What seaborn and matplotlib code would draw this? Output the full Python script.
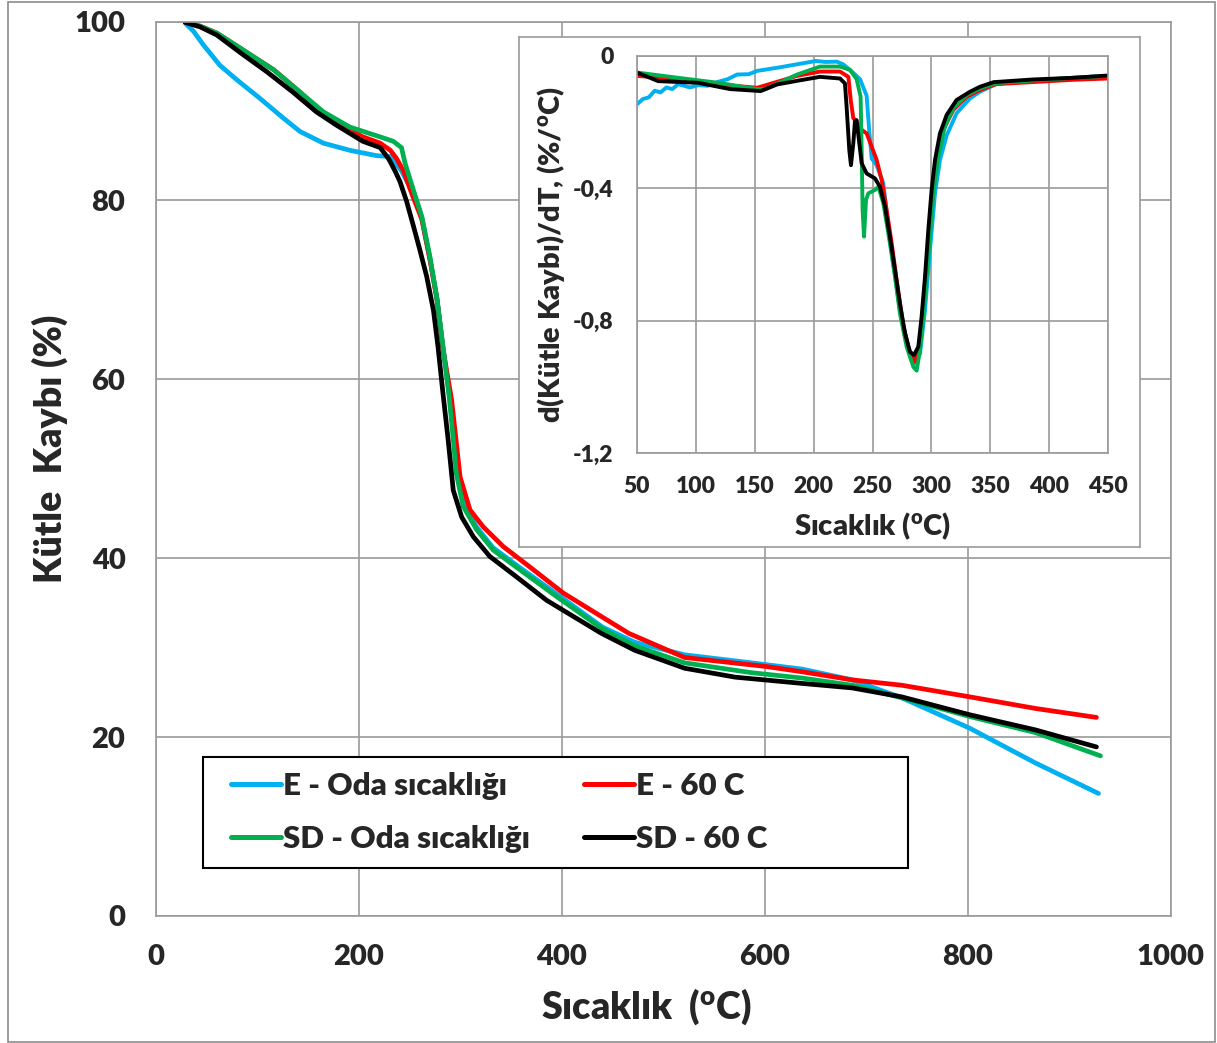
import numpy as np
import pandas as pd
import seaborn as sns
import matplotlib
matplotlib.use("Agg")
import matplotlib.pyplot as plt
from matplotlib.patches import Rectangle
from matplotlib.lines import Line2D

sns.set_theme(style="white")
plt.rcParams['font.family'] = ['Lato', 'DejaVu Sans']
plt.rcParams['font.weight'] = 'heavy'
plt.rcParams['mathtext.fontset'] = 'custom'
plt.rcParams['mathtext.rm'] = 'Lato:heavy'
plt.rcParams['mathtext.bf'] = 'Lato:heavy'
plt.rcParams['mathtext.it'] = 'Lato:heavy'
plt.rcParams['lines.solid_joinstyle'] = 'round'
plt.rcParams['lines.solid_capstyle'] = 'round'
FW = 'heavy'

# ---------------- data: TGA (main) ----------------
series_names = ["E - Oda sıcaklığı", "E - 60 C", "SD - Oda sıcaklığı", "SD - 60 C"]
series_colors = ["#00B0F0", "#FF0000", "#00B050", "#000000"]

e_oda_T = [29, 37, 46.6, 63, 79.5, 102.5, 125.5, 142, 165, 191, 217.5, 231, 236, 242, 248, 254, 262, 270, 277, 283, 290, 295, 303, 316, 332, 358, 395, 440, 472, 521, 587, 637, 686, 735, 802, 867, 929]
e_oda_m = [99.8, 98.9, 97.4, 95.1, 93.5, 91.4, 89.2, 87.7, 86.4, 85.6, 85.0, 84.9, 84.2, 83.3, 82.0, 80.9, 78.0, 73.5, 69.0, 63.4, 57.6, 51.8, 46.1, 43.5, 41.2, 39.0, 36.0, 32.3, 30.6, 29.2, 28.3, 27.6, 26.4, 24.4, 21.0, 17.1, 13.7]

e_60_T = [29, 43, 60, 86, 116, 142, 165, 178, 204, 221, 231, 237, 244, 252, 262, 270, 277, 283, 291.4, 299.7, 309.5, 322.6, 342.3, 368.7, 401.5, 466, 521, 601, 637, 686, 735, 802, 867, 927]
e_60_m = [100, 99.5, 98.7, 96.8, 94.6, 92.1, 89.6, 88.6, 87.1, 86.4, 85.6, 84.7, 83.3, 80.8, 77.9, 73.4, 68.9, 63.3, 57.7, 49.1, 45.4, 43.5, 41.3, 39.0, 36.1, 31.6, 28.9, 27.9, 27.3, 26.4, 25.8, 24.5, 23.2, 22.2]

sd_oda_T = [29, 43, 60, 86, 116, 142, 165, 191, 221, 234, 242, 245.4, 253.6, 262, 270, 276.7, 283, 289, 293, 296, 302.8, 316, 332.5, 358.8, 395, 440, 472, 521, 587, 637, 686, 735, 802, 867, 931]
sd_oda_m = [100, 99.5, 98.7, 96.8, 94.6, 92.1, 89.9, 88.2, 87.1, 86.6, 85.9, 84.2, 81.2, 78.2, 73.7, 69.2, 63.6, 58.0, 53.3, 49.5, 45.8, 43.2, 40.9, 38.7, 35.7, 32.1, 30.2, 28.3, 27.2, 26.6, 25.8, 24.4, 22.3, 20.5, 17.9]

sd_60_T = [28.6, 43.4, 59.8, 84.5, 109, 135, 158, 178, 204, 221, 229, 231, 236, 240.5, 247, 253.6, 260, 266.8, 273.5, 278, 283, 288, 293, 301.3, 312.8, 329, 355.5, 385, 401, 439, 472, 521, 571, 637, 686, 735, 802, 867, 927]
sd_60_m = [99.9, 99.4, 98.5, 96.4, 94.4, 92.1, 89.9, 88.4, 86.6, 85.9, 84.7, 84.3, 83.2, 82.1, 79.9, 77.2, 74.5, 71.5, 67.7, 63.6, 58.3, 53.2, 47.6, 44.6, 42.4, 40.2, 37.9, 35.3, 34.2, 31.6, 29.7, 27.7, 26.7, 26.0, 25.5, 24.5, 22.5, 20.8, 18.9]

# ---------------- data: DTG (inset) ----------------
d_e_oda_T = [50, 55, 60, 65, 70, 75, 80, 85, 95, 102, 110, 119, 127, 135, 145, 152, 170, 186, 202, 210, 219.6, 225, 230.9, 239.4, 245, 247.3, 249.3, 253.5, 259.2, 264.8, 273.3, 280.4, 286, 290.3, 294.6, 298.8, 303.1, 307.3, 313, 321.4, 332.8, 341.2, 355, 380, 420, 450]
d_e_oda_d = [-0.146, -0.13, -0.125, -0.105, -0.11, -0.095, -0.10, -0.085, -0.095, -0.088, -0.09, -0.078, -0.07, -0.056, -0.055, -0.045, -0.035, -0.025, -0.015, -0.018, -0.017, -0.025, -0.042, -0.07, -0.12, -0.23, -0.31, -0.33, -0.385, -0.556, -0.768, -0.879, -0.93, -0.90, -0.768, -0.586, -0.415, -0.314, -0.24, -0.173, -0.128, -0.108, -0.085, -0.075, -0.066, -0.06]

d_e_60_T = [50, 85, 119, 152, 186, 205.4, 222.4, 229.5, 231.5, 233.7, 236.5, 240.8, 245, 249.3, 253.5, 257.8, 262, 266.3, 270.5, 276.2, 281.8, 286, 289.7, 292.5, 296, 300.2, 304.5, 310.1, 318.6, 330, 341.2, 355, 390, 420, 450]
d_e_60_d = [-0.06, -0.07, -0.086, -0.096, -0.06, -0.047, -0.047, -0.063, -0.133, -0.188, -0.198, -0.223, -0.234, -0.274, -0.314, -0.375, -0.465, -0.566, -0.677, -0.818, -0.899, -0.924, -0.889, -0.778, -0.627, -0.455, -0.314, -0.224, -0.163, -0.123, -0.103, -0.085, -0.078, -0.072, -0.068]

d_sd_oda_T = [50, 85, 119, 152, 159, 186, 205.4, 222.4, 230.9, 236.5, 239.9, 240.8, 241.6, 242.8, 244.5, 246.5, 252.1, 255, 259.2, 264.8, 269.1, 273.3, 279, 284.7, 287.5, 290.3, 293.1, 297.4, 301.6, 305.9, 311.5, 318.6, 330, 341.2, 355, 390, 420, 450]
d_sd_oda_d = [-0.05, -0.066, -0.081, -0.10, -0.10, -0.056, -0.032, -0.032, -0.042, -0.07, -0.123, -0.284, -0.466, -0.546, -0.435, -0.415, -0.405, -0.395, -0.445, -0.566, -0.667, -0.778, -0.879, -0.94, -0.951, -0.89, -0.788, -0.606, -0.415, -0.304, -0.213, -0.158, -0.118, -0.098, -0.082, -0.073, -0.066, -0.06]

d_sd_60_T = [50, 68, 102, 129, 155, 169, 186, 205.4, 222.4, 226.6, 228, 230.3, 231.7, 233.7, 235.1, 236.5, 238.8, 240.8, 245, 252.1, 256.3, 260.6, 264.8, 269.1, 273.3, 277.6, 281.8, 285.2, 288.9, 291.7, 294.6, 297.4, 300.2, 303.1, 307.3, 313, 321.4, 332.8, 341.2, 353, 386, 420, 450]
d_sd_60_d = [-0.05, -0.076, -0.081, -0.10, -0.106, -0.086, -0.075, -0.063, -0.068, -0.083, -0.153, -0.284, -0.33, -0.264, -0.198, -0.194, -0.264, -0.324, -0.355, -0.37, -0.395, -0.455, -0.546, -0.647, -0.748, -0.838, -0.894, -0.904, -0.879, -0.788, -0.667, -0.526, -0.405, -0.314, -0.234, -0.178, -0.133, -0.108, -0.093, -0.079, -0.071, -0.066, -0.059]

main_xticks = [0, 200, 400, 600, 800, 1000]
main_yticks = [0, 20, 40, 60, 80, 100]
inset_xticks = [50, 100, 150, 200, 250, 300, 350, 400, 450]
inset_yticks = [0, -0.4, -0.8, -1.2]
inset_yticklabels = ["0", "-0,4", "-0,8", "-1,2"]

tga = [(e_oda_T, e_oda_m), (e_60_T, e_60_m), (sd_oda_T, sd_oda_m), (sd_60_T, sd_60_m)]
dtg = [(d_e_oda_T, d_e_oda_d), (d_e_60_T, d_e_60_d), (d_sd_oda_T, d_sd_oda_d), (d_sd_60_T, d_sd_60_d)]

tga_df = pd.concat([pd.DataFrame({"T": t, "m": m, "s": n}) for (t, m), n in zip(tga, series_names)])
dtg_df = pd.concat([pd.DataFrame({"T": t, "d": d, "s": n}) for (t, d), n in zip(dtg, series_names)])
palette = dict(zip(series_names, series_colors))

W, H = 1217, 1043
fig = plt.figure(figsize=(W / 100, H / 100), dpi=100)
fig.patch.set_facecolor("white")
fig.patches.append(Rectangle((8 / W, 1 - 1042 / H), (1215 - 8) / W, (1042 - 2) / H,
                             transform=fig.transFigure, fill=False, edgecolor="#8c8c8c", lw=1.2))

grid_c = "#9a9a9a"
AX_L, AX_R, AX_T, AX_B = 156, 1170.5, 21.5, 916


def axx(px):
    return (px - AX_L) / (AX_R - AX_L)


def axy(py):
    return (AX_B - py) / (AX_B - AX_T)


ax = fig.add_axes([AX_L / W, 1 - AX_B / H, (AX_R - AX_L) / W, (AX_B - AX_T) / H])
sns.lineplot(data=tga_df, x="T", y="m", hue="s", palette=palette, hue_order=series_names,
             sort=False, estimator=None, lw=3.4, ax=ax, legend=False)
ax.set_xlim(0, 1000)
ax.set_ylim(0, 100)
ax.set_xticks(main_xticks)
ax.set_yticks(main_yticks)
ax.grid(True, color=grid_c, lw=1.2)
for s in ax.spines.values():
    s.set_color(grid_c)
    s.set_linewidth(1.2)
ax.tick_params(axis="both", which="both", direction="out", length=7.5, width=1.2, color=grid_c,
               labelsize=21)
ax.tick_params(axis="x", pad=12.5)
ax.tick_params(axis="y", pad=14.5)
for lab in ax.get_xticklabels() + ax.get_yticklabels():
    lab.set_fontweight(FW)
ax.set_xlabel(r"Sıcaklık  ($\mathbf{^{o}}$C)", fontsize=27, fontweight=FW, labelpad=12,
              x=axx(646.5))
ax.set_ylabel("Kütle  Kaybı (%)", fontsize=27, fontweight=FW, labelpad=5, y=axy(449))

# legend
ax.add_patch(Rectangle((axx(203), axy(868)), axx(908) - axx(203), axy(757) - axy(868),
                       transform=ax.transAxes, fill=True, facecolor="white", edgecolor="black",
                       lw=1.5, zorder=4))
handles = [Line2D([], [], color=c, lw=3.6) for c in series_colors]
order = [0, 2, 1, 3]
leg = ax.legend([handles[i] for i in order], [series_names[i] for i in order], ncol=2,
                loc="center left", bbox_to_anchor=(axx(231), axy(812.5)),
                frameon=False, prop={"size": 22.5, "weight": FW}, handlelength=1.6,
                handletextpad=0.05, columnspacing=1.75, labelspacing=0.8, borderpad=0,
                borderaxespad=0)
leg.set_zorder(5)

# inset background box
box = fig.add_axes([519 / W, 1 - 547 / H, (1140 - 519) / W, (547 - 37) / H])
box.set_facecolor("white")
box.set_xticks([]); box.set_yticks([])
for s in box.spines.values():
    s.set_color(grid_c)
    s.set_linewidth(1.2)
box.set_zorder(5)

ins = fig.add_axes([637 / W, 1 - 453 / H, (1108 - 637) / W, (453 - 56) / H])
ins.set_zorder(6)
sns.lineplot(data=dtg_df, x="T", y="d", hue="s", palette=palette, hue_order=series_names,
             sort=False, estimator=None, lw=2.8, ax=ins, legend=False)
ins.set_xlim(50, 450)
ins.set_ylim(-1.2, 0)
ins.set_xticks(inset_xticks)
ins.set_yticks(inset_yticks)
ins.set_yticklabels(inset_yticklabels)
ins.grid(True, color=grid_c, lw=1.2)
for s in ins.spines.values():
    s.set_color(grid_c)
    s.set_linewidth(1.2)
ins.tick_params(axis="y", direction="out", length=6, width=1.2, color=grid_c, labelsize=16.5, pad=11)
ins.tick_params(axis="x", direction="out", length=0, labelsize=16.5, pad=16.5)
for lab in ins.get_xticklabels() + ins.get_yticklabels():
    lab.set_fontweight(FW)
ins.set_xlabel(r"Sıcaklık ($\mathbf{^{o}}$C)", fontsize=21, fontweight=FW, labelpad=10)
ins.set_ylabel(r"d(Kütle Kaybı)/dT, (%/$\mathbf{^{o}}$C)", fontsize=21, fontweight=FW, labelpad=4)

fig.savefig("out.png", dpi=100, facecolor="white")
